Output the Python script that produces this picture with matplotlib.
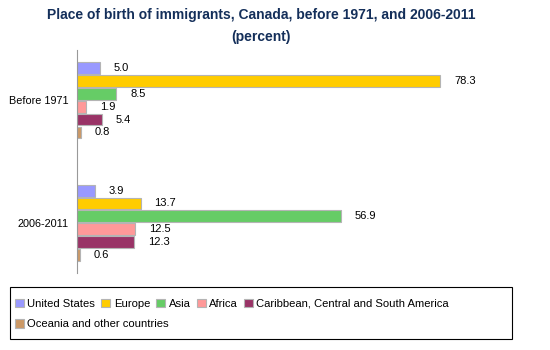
import matplotlib.pyplot as plt
from matplotlib.patches import Rectangle
import numpy as np

plt.rcParams['font.family'] = ['Liberation Sans', 'DejaVu Sans']

periods = ['Before 1971', '2006-2011']
regions = ['United States', 'Europe', 'Asia', 'Africa',
           'Caribbean, Central and South America', 'Oceania and other countries']
before_1971 = [5.0, 78.3, 8.5, 1.9, 5.4, 0.8]
recent = [3.9, 13.7, 56.9, 12.5, 12.3, 0.6]
colors = ['#9999ff', '#ffcc00', '#66cc66', '#ff9999', '#993366', '#cc9966']

values = np.array([before_1971, recent])

fig = plt.figure(figsize=(5.5, 3.5), dpi=100)
ax = fig.add_axes([0.14, 0.22, 0.843, 0.637])

bh = 0.105
handles = []
for i, reg in enumerate(regions):
    y = np.arange(len(periods)) + (i - 2.5) * bh
    b = ax.barh(y, values[:, i], height=bh * 0.92, color=colors[i],
                edgecolor='#b4b4b4', linewidth=0.8, label=reg)
    handles.append(b)
    for yy, v in zip(y, values[:, i]):
        ax.annotate('%.1f' % v, (v, yy), xytext=(10, 0), textcoords='offset points',
                    va='center', ha='left', fontsize=8)

ax.set_xlim(0, 100)
ax.set_ylim(1.41, -0.41)
ax.set_yticks(range(len(periods)))
ax.set_yticklabels(periods, fontsize=7.8)
ax.tick_params(axis='y', length=0, pad=6)
ax.set_xticks([])
for s in ['top', 'right', 'bottom']:
    ax.spines[s].set_visible(False)
ax.spines['left'].set_color('#999999')

title_color = '#142f5a'
fig.text(0.475, 0.958, 'Place of birth of immigrants, Canada, before 1971, and 2006-2011',
         ha='center', va='center', fontsize=10, fontweight='bold', color=title_color)
fig.text(0.475, 0.895, '(percent)', ha='center', va='center',
         fontsize=10, fontweight='bold', color=title_color)

# legend frame and two rows
fig.add_artist(Rectangle((0.018, 0.031), 0.913, 0.149, transform=fig.transFigure,
                         fill=False, edgecolor='black', linewidth=0.8))
kw = dict(frameon=False, fontsize=8.1, handlelength=0.8, handleheight=0.8,
          handletextpad=0.3, columnspacing=0.55, borderaxespad=0, borderpad=0)
fig.legend(handles[:5], regions[:5], loc='center left',
           bbox_to_anchor=(0.027, 0.132), ncol=5, **kw)
fig.legend(handles[5:], regions[5:], loc='center left',
           bbox_to_anchor=(0.027, 0.074), ncol=1, **kw)

fig.savefig('out.png', dpi=100)
